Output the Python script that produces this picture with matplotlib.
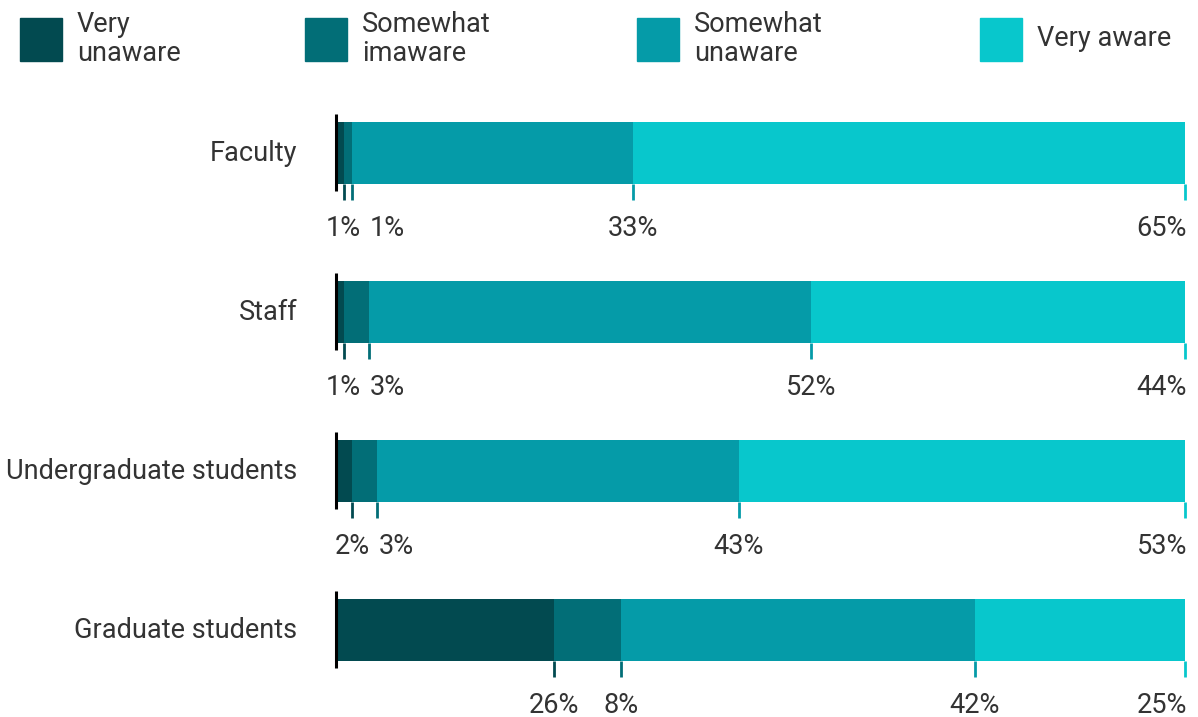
import numpy as np
import matplotlib as mpl
import matplotlib.pyplot as plt
from matplotlib.patches import Rectangle

mpl.rcParams['font.family'] = ['Roboto', 'DejaVu Sans']

# 데이터
groups = ['Faculty', 'Staff', 'Undergraduate students', 'Graduate students']
series = ['Very\nunaware', 'Somewhat\nimaware', 'Somewhat\nunaware', 'Very aware']
very_unaware = [1, 1, 2, 26]
somewhat_imaware = [1, 3, 3, 8]
somewhat_unaware = [33, 52, 43, 42]
very_aware = [65, 44, 53, 25]

colors = ['#024a50', '#026e77', '#059ba8', '#08c7cc']
text_color = '#333333'
fs = 19.5

fig = plt.figure(figsize=(11.98, 7.17), dpi=100)
ax = fig.add_axes([335 / 1198, 0.0102, 850 / 1198, 0.888])

vals = np.array([very_unaware, somewhat_imaware, somewhat_unaware, very_aware], dtype=float)
totals = vals.sum(axis=0)
scaled = vals / totals * 100  # 막대 길이를 100으로 맞춤
ypos = np.arange(len(groups))
bar_h = 0.39

left = np.zeros(len(groups))
ends = []
for i in range(len(series)):
    ax.barh(ypos, scaled[i], left=left, height=bar_h, color=colors[i], linewidth=0)
    left = left + scaled[i]
    ends.append(left.copy())

ax.set_xlim(0, 100)
ax.set_ylim(3.5, -0.5)
ax.axis('off')

tick_len = 0.1
for j in range(len(groups)):
    yb = ypos[j] + bar_h / 2
    # 왼쪽 검은 선
    ax.plot([0.15, 0.15], [ypos[j] - bar_h / 2 - 0.05, yb + 0.045], color='black',
            lw=2.2, solid_capstyle='butt', clip_on=False)
    for i in range(len(series)):
        x = ends[i][j]
        ax.plot([x, x], [yb, yb + tick_len], color=colors[i], lw=2,
                solid_capstyle='butt', clip_on=False)
    ax.text(-4.45, ypos[j] - 0.015, groups[j], ha='right', va='center_baseline',
            fontsize=fs, color=text_color)

# 퍼센트 라벨 (겹치지 않게 배치)
fig.canvas.draw()
renderer = fig.canvas.get_renderer()
px_per_unit = ax.transData.transform((1, 0))[0] - ax.transData.transform((0, 0))[0]
right_limit = 100 + 2 / px_per_unit
gap = 9 / px_per_unit
for j in range(len(groups)):
    ylab = ypos[j] + 0.455
    labels = []
    for i in range(len(series)):
        t = ax.text(ends[i][j], ylab, '%d%%' % vals[i][j], ha='center', va='center_baseline',
                    fontsize=fs, color=text_color)
        w = t.get_window_extent(renderer).width / px_per_unit
        labels.append([t, ends[i][j], w])
    prev_right = -1e9
    for lab in labels:
        t, cx, w = lab
        if cx - w / 2 < prev_right + gap:
            cx = prev_right + gap + w / 2
        if cx + w / 2 > right_limit:
            cx = right_limit - w / 2
        t.set_x(cx)
        lab[1] = cx
        prev_right = cx + w / 2

# 범례
leg_x = [20, 305, 637, 980]
for i in range(len(series)):
    x0 = leg_x[i] / 1198
    fig.patches.append(Rectangle((x0, 1 - 61 / 717), 42 / 1198, 43 / 717,
                                 transform=fig.transFigure, color=colors[i], figure=fig))
    fig.text((leg_x[i] + 57) / 1198, 1 - 39 / 717, series[i], ha='left', va='center',
             fontsize=fs, color=text_color, linespacing=1.12)

plt.savefig('out.png', dpi=100)
